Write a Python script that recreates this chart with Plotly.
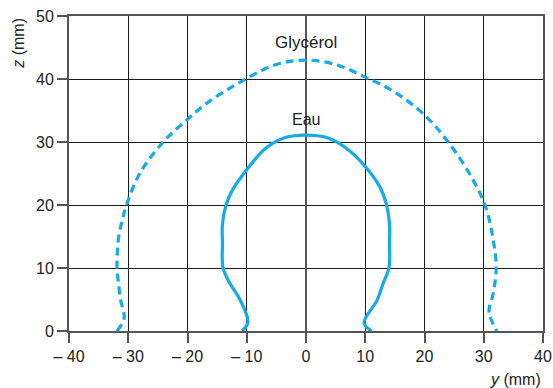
import plotly.graph_objects as go

# Glycérol profile (dashed): horizontal position y and height z, in mm
glycerol_y = [-31.9, -30.7, -31.3, -31.7, -31.9, -31.6, -30.9, -30.3, -28.0, -24.1,
              -20.0, -16.7, -10.0, -5.0, 0.0, 5.0, 10.0, 15.0, 20.0, 24.0,
              27.7, 30.2, 31.5, 32.1, 31.6, 30.9, 32.2]
glycerol_z = [0.0, 2.0, 5.0, 8.0, 10.0, 15.0, 18.0, 20.0, 25.1, 30.0,
              33.6, 36.2, 40.1, 42.3, 43.0, 42.3, 40.3, 37.9, 34.3, 30.0,
              24.8, 20.0, 15.0, 10.0, 6.0, 3.0, 0.0]

# Eau profile (solid)
eau_y = [-10.8, -9.8, -11.1, -12.8, -14.0, -14.1, -14.1, -13.5, -12.4, -10.0,
         -6.8, -3.5, 0.0, 3.5, 6.8, 10.1, 12.5, 13.6, 14.1, 14.1, 14.0,
         13.0, 12.0, 9.8, 11.1]
eau_z = [0.0, 1.4, 4.9, 7.5, 10.0, 14.0, 17.0, 20.0, 22.4, 25.6,
         29.0, 30.7, 31.1, 30.7, 29.0, 26.0, 22.8, 20.0, 17.0, 14.0, 10.0,
         7.5, 4.9, 1.3, 0.0]

x_ticks = [-40, -30, -20, -10, 0, 10, 20, 30, 40]
x_tick_text = ["\u2013 40", "\u2013 30", "\u2013 20", "\u2013 10", "0", "10", "20", "30", "40"]
y_ticks = [0, 10, 20, 30, 40, 50]

curve_color = "#12ace8"
font_family = "Liberation Sans, Arial, sans-serif"

fig = go.Figure()
fig.add_trace(go.Scatter(
    x=glycerol_y, y=glycerol_z, mode="lines",
    line=dict(color=curve_color, width=3.2, dash="8px,5px", shape="spline", smoothing=1.0),
    showlegend=False, hoverinfo="skip"))
fig.add_trace(go.Scatter(
    x=eau_y, y=eau_z, mode="lines",
    line=dict(color=curve_color, width=3.2, shape="spline", smoothing=1.0),
    showlegend=False, hoverinfo="skip"))

fig.add_annotation(x=0, y=43, text="Glycérol", showarrow=False, yshift=6,
                   yanchor="bottom", font=dict(size=17, color="#222"))
fig.add_annotation(x=0, y=31.1, text="Eau", showarrow=False, yshift=5,
                   yanchor="bottom", font=dict(size=16, color="#222"))

# axis titles
fig.add_annotation(xref="paper", yref="paper", x=1.0, y=-0.12, xanchor="right",
                   yanchor="top", text="<i>y</i> (mm)", showarrow=False,
                   font=dict(size=16, color="#222"))
fig.add_annotation(xref="paper", yref="paper", x=-0.107, y=1.0, xanchor="center",
                   yanchor="top", text="<i>z</i> (mm)", textangle=-90, showarrow=False,
                   font=dict(size=16, color="#222"))

axis_common = dict(
    automargin=False,
    showgrid=True, gridcolor="#1a1a1a", gridwidth=1,
    showline=True, linecolor="#555", linewidth=2, mirror=True,
    ticks="outside", ticklen=10, tickcolor="#555", tickwidth=1.5,
    tickfont=dict(size=16, color="#222"),
)

fig.update_xaxes(range=[-40, 40], tickvals=x_ticks, ticktext=x_tick_text,
                 zeroline=True, zerolinecolor="#555", zerolinewidth=2, **axis_common)
fig.update_yaxes(range=[0, 50], tickvals=y_ticks, zeroline=False, **axis_common)

fig.update_layout(
    width=553, height=388,
    margin=dict(l=69, r=10, t=16, b=57),
    paper_bgcolor="white", plot_bgcolor="white",
    font=dict(family=font_family, color="#222"),
)

fig.write_html("out.html")
